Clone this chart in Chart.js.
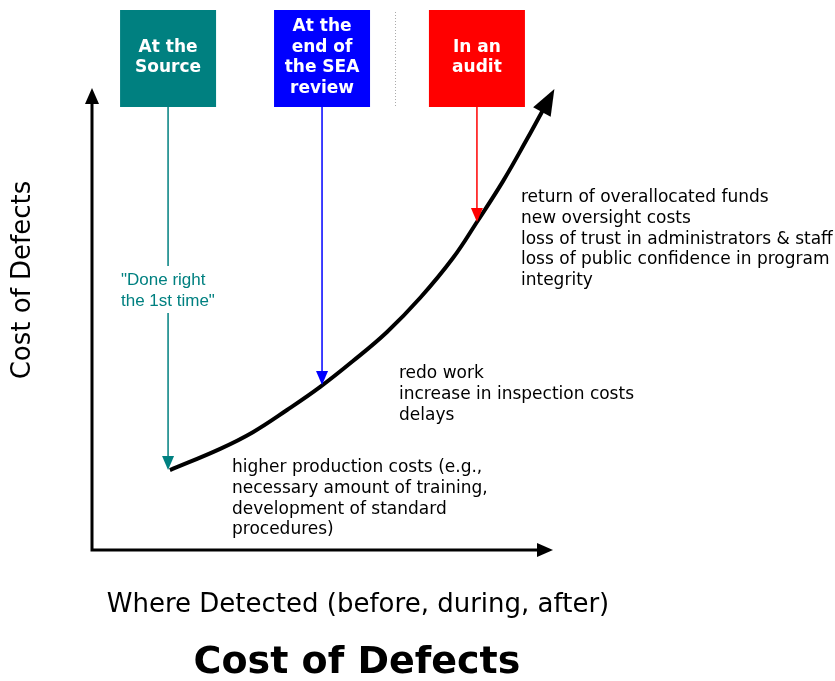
<!DOCTYPE html>
<html>
<head>
<meta charset="utf-8">
<script src="https://cdn.jsdelivr.net/npm/chart.js@4"></script>
<style>
  body { margin: 0; background: #fff; }
  #wrap { width: 835px; height: 681px; }
</style>
</head>
<body>
<div id="wrap"><canvas id="costChart" width="835" height="681"></canvas></div>
<script>
// curve: cost of defects vs. where detected
const curveX = [1.69, 2.78, 3.49, 4.23, 4.95, 5.66, 6.40, 7.12, 7.83, 8.35, 8.92, 9.44, 9.78];
const curveY = [1.73, 2.19, 2.55, 3.03, 3.53, 4.09, 4.72, 5.46, 6.32, 7.10, 7.99, 8.90, 9.52];

// detection stages
const stageNames = [['At the', 'Source'], ['At the', 'end of', 'the SEA', 'review'], ['In an', 'audit']];
const stageX = [1.65, 4.99, 8.35];
const stageHitY = [1.73, 3.57, 7.1];
const stageColors = ['#008080', '#0000ff', '#ff0000'];

// consequence notes
const notes = [
    ['return of overallocated funds', 'new oversight costs', 'loss of trust in administrators & staff', 'loss of public confidence in program', 'integrity'],
    ['redo work', 'increase in inspection costs', 'delays'],
    ['higher production costs (e.g.,', 'necessary amount of training,', 'development of standard', 'procedures)']
];
const sourceNote = ['"Done right', 'the 1st time"'];

const yTitle = 'Cost of Defects';
const xTitle = 'Where Detected (before, during, after)';
const mainTitle = 'Cost of Defects';

const FONT = '"DejaVu Sans", Verdana, sans-serif';

function arrowHead(ctx, x, y, angle, len, half) {
    ctx.save();
    ctx.translate(x, y);
    ctx.rotate(angle);
    ctx.beginPath();
    ctx.moveTo(0, 0);
    ctx.lineTo(-len, -half);
    ctx.lineTo(-len, half);
    ctx.closePath();
    ctx.fill();
    ctx.restore();
}

const diagramPlugin = {
    id: 'diagram',
    afterDraw(chart) {
        const ctx = chart.ctx;
        const xs = chart.scales.x, ys = chart.scales.y;
        const area = chart.chartArea;
        ctx.save();

        // axes with arrows
        ctx.strokeStyle = '#000';
        ctx.fillStyle = '#000';
        ctx.lineWidth = 3;
        ctx.beginPath();
        ctx.moveTo(area.left, area.top + 14);
        ctx.lineTo(area.left, area.bottom);
        ctx.lineTo(area.right - 14, area.bottom);
        ctx.stroke();
        arrowHead(ctx, area.left, area.top, -Math.PI / 2, 16, 7);
        arrowHead(ctx, area.right, area.bottom, 0, 16, 7);

        // arrowhead at end of curve
        const n = curveX.length;
        const px1 = xs.getPixelForValue(curveX[n - 2]), py1 = ys.getPixelForValue(curveY[n - 2]);
        const px2 = xs.getPixelForValue(curveX[n - 1]), py2 = ys.getPixelForValue(curveY[n - 1]);
        const ang = Math.atan2(py2 - py1, px2 - px1);
        arrowHead(ctx, px2 + Math.cos(ang) * 24, py2 + Math.sin(ang) * 24, ang, 26, 10);

        // stage boxes and arrows
        const boxTop = 10, boxH = 97, boxW = 96;
        stageNames.forEach((lines, i) => {
            const cx = xs.getPixelForValue(stageX[i]);
            const hitY = ys.getPixelForValue(stageHitY[i]);
            ctx.fillStyle = stageColors[i];
            ctx.fillRect(cx - boxW / 2, boxTop, boxW, boxH);
            ctx.fillStyle = '#fff';
            ctx.font = 'bold 17px ' + FONT;
            ctx.textAlign = 'center';
            ctx.textBaseline = 'middle';
            const lh = 20.7;
            const start = boxTop + boxH / 2 - 1 - (lines.length - 1) * lh / 2;
            lines.forEach((t, j) => ctx.fillText(t, cx, start + j * lh));

            ctx.strokeStyle = stageColors[i];
            ctx.fillStyle = stageColors[i];
            ctx.lineWidth = 1.5;
            ctx.beginPath();
            if (i === 0) {
                ctx.moveTo(cx, boxTop + boxH);
                ctx.lineTo(cx, 266);
                ctx.moveTo(cx, 313);
                ctx.lineTo(cx, hitY - 12);
            } else {
                ctx.moveTo(cx, boxTop + boxH);
                ctx.lineTo(cx, hitY - 12);
            }
            ctx.stroke();
            arrowHead(ctx, cx, hitY, Math.PI / 2, 14, 6);
        });

        // dotted separator
        ctx.strokeStyle = '#aaa';
        ctx.lineWidth = 1;
        ctx.setLineDash([1, 2]);
        ctx.beginPath();
        ctx.moveTo(395.5, 12);
        ctx.lineTo(395.5, 108);
        ctx.stroke();
        ctx.setLineDash([]);

        // "Done right the 1st time"
        ctx.fillStyle = '#008080';
        ctx.font = '17px "Liberation Sans", Arial, sans-serif';
        ctx.textAlign = 'left';
        ctx.textBaseline = 'middle';
        sourceNote.forEach((t, j) => ctx.fillText(t, 121, 280 + j * 21));

        // consequence notes
        ctx.fillStyle = '#000';
        ctx.font = '17px ' + FONT;
        const notePos = [[521, 198], [399, 374], [232, 468]];
        notes.forEach((lines, i) => {
            lines.forEach((t, j) => ctx.fillText(t, notePos[i][0], notePos[i][1] + j * 20.6));
        });

        // axis titles
        ctx.font = '26px ' + FONT;
        ctx.textAlign = 'center';
        ctx.fillText(xTitle, 358, 605);
        ctx.save();
        ctx.translate(23, 280);
        ctx.rotate(-Math.PI / 2);
        ctx.fillText(yTitle, 0, 0);
        ctx.restore();

        ctx.font = 'bold 38px ' + FONT;
        ctx.fillText(mainTitle, 357, 663);
        ctx.restore();
    }
};

document.addEventListener('DOMContentLoaded', function () {
    const ctx = document.getElementById('costChart').getContext('2d');
    new Chart(ctx, {
        type: 'scatter',
        data: {
            datasets: [{
                label: 'Cost of defects',
                data: curveX.map((x, i) => ({ x: x, y: curveY[i] })),
                showLine: true,
                borderColor: '#000',
                borderWidth: 4,
                pointRadius: 0,
                tension: 0.4,
                clip: false
            }]
        },
        options: {
            responsive: false,
            animation: false,
            layout: { padding: { left: 92, top: 88, right: 282, bottom: 131 } },
            plugins: { legend: { display: false }, tooltip: { enabled: false } },
            scales: {
                x: { type: 'linear', min: 0, max: 10, display: false },
                y: { type: 'linear', min: 0, max: 10, display: false }
            }
        },
        plugins: [diagramPlugin]
    });
});
</script>
</body>
</html>
